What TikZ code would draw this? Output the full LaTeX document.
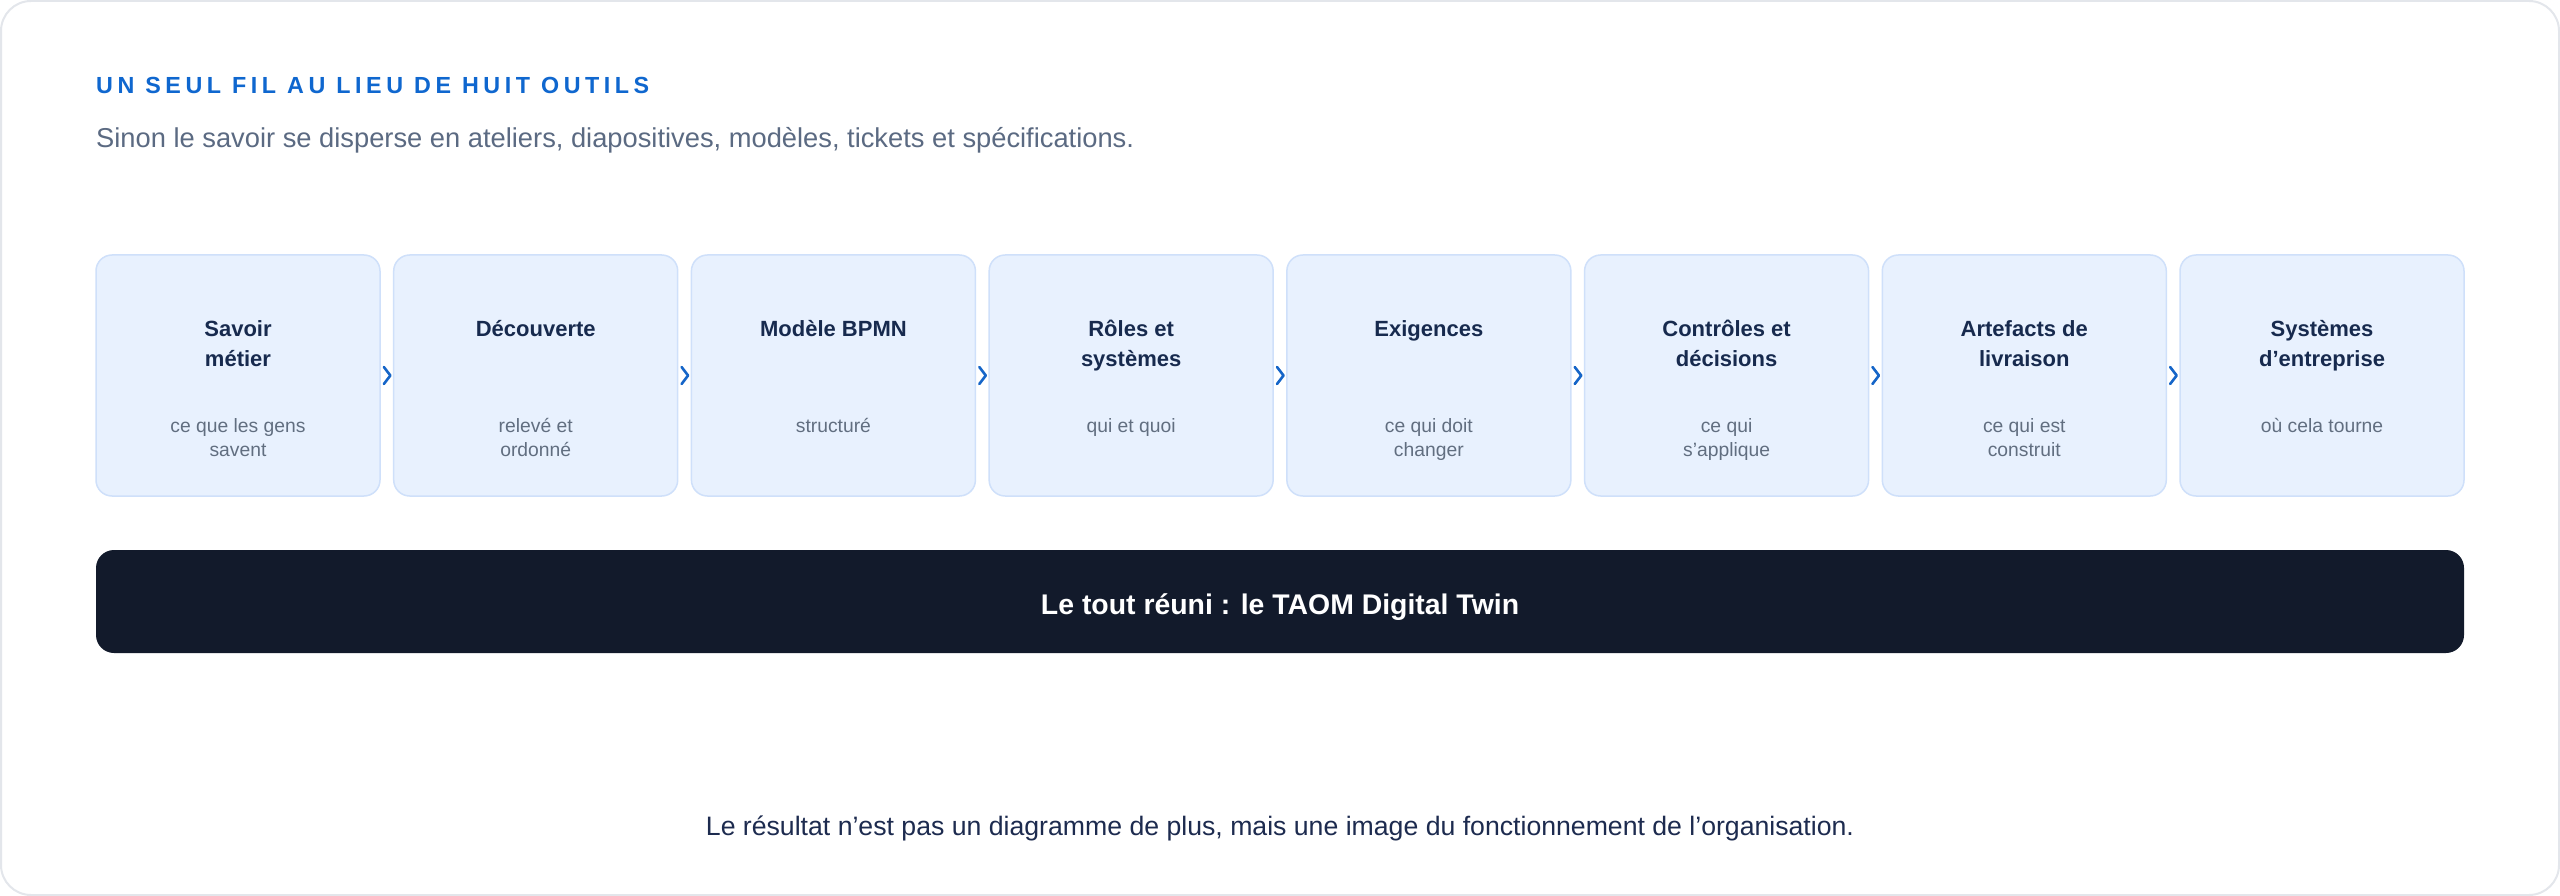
\documentclass[tikz,border=0pt]{standalone}
\usepackage{fontspec}
\setmainfont{Liberation Sans}
\usetikzlibrary{calc}
\definecolor{framec}{HTML}{E3E6EB}
\definecolor{titleblue}{HTML}{0F67CF}
\definecolor{subtitlec}{HTML}{5B6A82}
\definecolor{navy}{HTML}{172A4E}
\definecolor{subgray}{HTML}{616E80}
\definecolor{boxfill}{HTML}{E8F1FE}
\definecolor{boxline}{HTML}{CFE0FA}
\definecolor{chevblue}{HTML}{1565C8}
\definecolor{barc}{HTML}{121A2B}
\definecolor{bottomc}{HTML}{1D2B4F}
\begin{document}
\begin{tikzpicture}[x=1pt,y=-1pt,
  stagebox/.style={draw=boxline, fill=boxfill, line width=1.5pt, rounded corners=16pt,
    minimum width=284pt, minimum height=241pt, inner sep=0pt},
  stagetitle/.style={anchor=base, inner sep=0pt, text=navy,
    font=\fontsize{22}{30.5}\selectfont\bfseries},
  stagesub/.style={anchor=base, inner sep=0pt, text=subgray,
    font=\fontsize{19.3}{24}\selectfont},
  chev/.style={draw=chevblue, line width=2.6pt, line cap=round, line join=round}]
\useasboundingbox (0,0) rectangle (2560,896);
\draw[framec, fill=white, line width=2pt, rounded corners=30pt] (1,1) rectangle (2559,895);

\node[anchor=base west, inner sep=0pt, text=titleblue,
  font=\fontsize{23.3}{28}\selectfont\bfseries\addfontfeature{LetterSpace=19.5}] (title) at (96,93.3)
  {UN SEUL FIL AU LIEU DE HUIT OUTILS};
\node[anchor=base west, inner sep=0pt, text=subtitlec,
  font=\fontsize{27.3}{32}\selectfont] (subtitle) at (96,147.3)
  {Sinon le savoir se disperse en ateliers, diapositives, modèles, tickets et spécifications.};

\foreach \i/\t/\s in {
  1/{Savoir\\métier}/{ce que les gens\\savent},
  2/{Découverte}/{relevé et\\ordonné},
  3/{Modèle BPMN}/{structuré},
  4/{Rôles et\\systèmes}/{qui et quoi},
  5/{Exigences}/{ce qui doit\\changer},
  6/{Contrôles et\\décisions}/{ce qui\\s’applique},
  7/{Artefacts de\\livraison}/{ce qui est\\construit},
  8/{Systèmes\\d’entreprise}/{où cela tourne}}{
  \pgfmathsetmacro{\cx}{238+(\i-1)*297.714}
  \node[stagebox] (b\i) at (\cx,375.5) {};
  \node[stagetitle] (t\i) at (\cx,336) {\begin{tabular}[t]{@{}c@{}}\t\end{tabular}};
  \node[stagesub] (s\i) at (\cx,432.7) {\begin{tabular}[t]{@{}c@{}}\s\end{tabular}};
}

\foreach \i [evaluate=\i as \j using int(\i+1)] in {1,...,7}{
  \draw[chev] ($(b\i.east)!0.5!(b\j.west)$) ++(-3,-8.5) -- ++(6.5,8.5) -- ++(-6.5,8.5);
}

\node[fill=barc, rounded corners=18pt, minimum width=2368pt, minimum height=103pt,
  inner sep=0pt] (bar) at (1280,601.5) {};
\node[anchor=base, inner sep=0pt, text=white, font=\fontsize{28.4}{34}\selectfont\bfseries]
  (bartext) at (1280,614) {Le tout réuni : le TAOM Digital Twin};

\node[anchor=base, inner sep=0pt, text=bottomc, font=\fontsize{26.65}{32}\selectfont]
  (bottom) at (1280,835)
  {Le résultat n’est pas un diagramme de plus, mais une image du fonctionnement de l’organisation.};
\end{tikzpicture}
\end{document}
